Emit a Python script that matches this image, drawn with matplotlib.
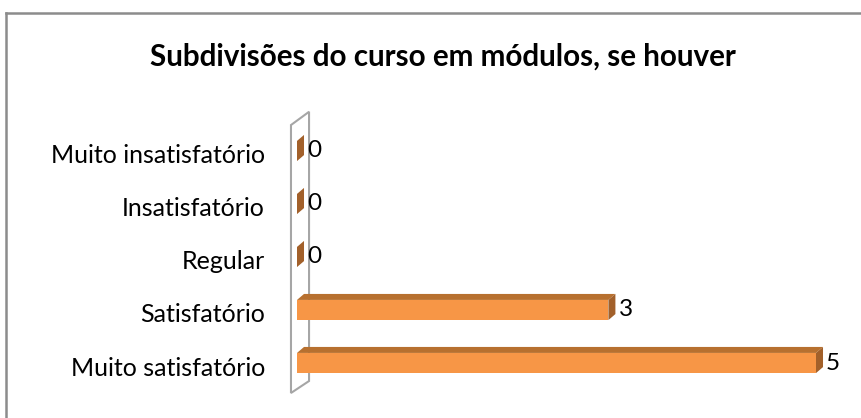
import matplotlib
matplotlib.use('Agg')
import matplotlib.pyplot as plt
from matplotlib.patches import Polygon
from matplotlib.transforms import ScaledTranslation

# Data
categories = ['Muito satisfatório', 'Satisfatório', 'Regular', 'Insatisfatório', 'Muito insatisfatório']
values = [5, 3, 0, 0, 0]
title = 'Subdivisões do curso em módulos, se houver'

plt.rcParams['font.family'] = ['Lato', 'DejaVu Sans']

fig = plt.figure(figsize=(8.62, 4.18), dpi=100)
ax = fig.add_axes([297 / 862, 1 - 389.5 / 418, 519 / 862, 265 / 418])
ax.set_xlim(0, 5)
ax.set_ylim(-0.5, 4.5)

front = '#F79646'
top_c = '#B7702F'
side_c = '#A2602A'
bar_h = 0.38
dx = 0.0675   # depth in value units
dy = 0.113    # depth in category units

# back wall
wall = Polygon([(-0.058, -0.566), (0.116, -0.34), (0.116, 4.74), (-0.058, 4.49)],
               closed=True, facecolor='white', edgecolor='#A6A6A6', lw=1.5,
               zorder=1, clip_on=False)
ax.add_patch(wall)

ypos = list(range(len(categories)))
ax.barh(ypos, values, height=bar_h, color=front, zorder=3)
for y, v in zip(ypos, values):
    t = y + bar_h / 2
    b = y - bar_h / 2
    ax.add_patch(Polygon([(0, t), (v, t), (v + dx, t + dy), (dx, t + dy)],
                         closed=True, facecolor=top_c, edgecolor='none', zorder=3, clip_on=False))
    ax.add_patch(Polygon([(v, b), (v + dx, b + dy), (v + dx, t + dy), (v, t)],
                         closed=True, facecolor=side_c, edgecolor='none', zorder=3, clip_on=False))
    ax.text(v + dx + 0.03, y, str(v), ha='left', va='center', fontsize=17.5, color='black',
            clip_on=False)

ax.set_yticks(ypos)
ax.set_yticklabels(categories, fontsize=18)
ax.tick_params(axis='y', length=0, pad=23)
off = ScaledTranslation(0, -3 / 100, fig.dpi_scale_trans)
for lab in ax.get_yticklabels():
    lab.set_transform(lab.get_transform() + off)
ax.set_xticks([])
for s in ax.spines.values():
    s.set_visible(False)
ax.patch.set_alpha(0)

fig.text(443 / 862, 1 - 57 / 418, title, ha='center', va='center', fontsize=21.3,
         fontweight='bold')

# chart border (left and top edges visible)
fig.add_artist(plt.Line2D([6 / 862, 6 / 862], [0, 1 - 13 / 418], color='#8C8C8C', lw=1.8,
                          transform=fig.transFigure))
fig.add_artist(plt.Line2D([6 / 862, 1], [1 - 13 / 418, 1 - 13 / 418], color='#8C8C8C', lw=1.8,
                          transform=fig.transFigure))

fig.savefig('out.png', dpi=100)
